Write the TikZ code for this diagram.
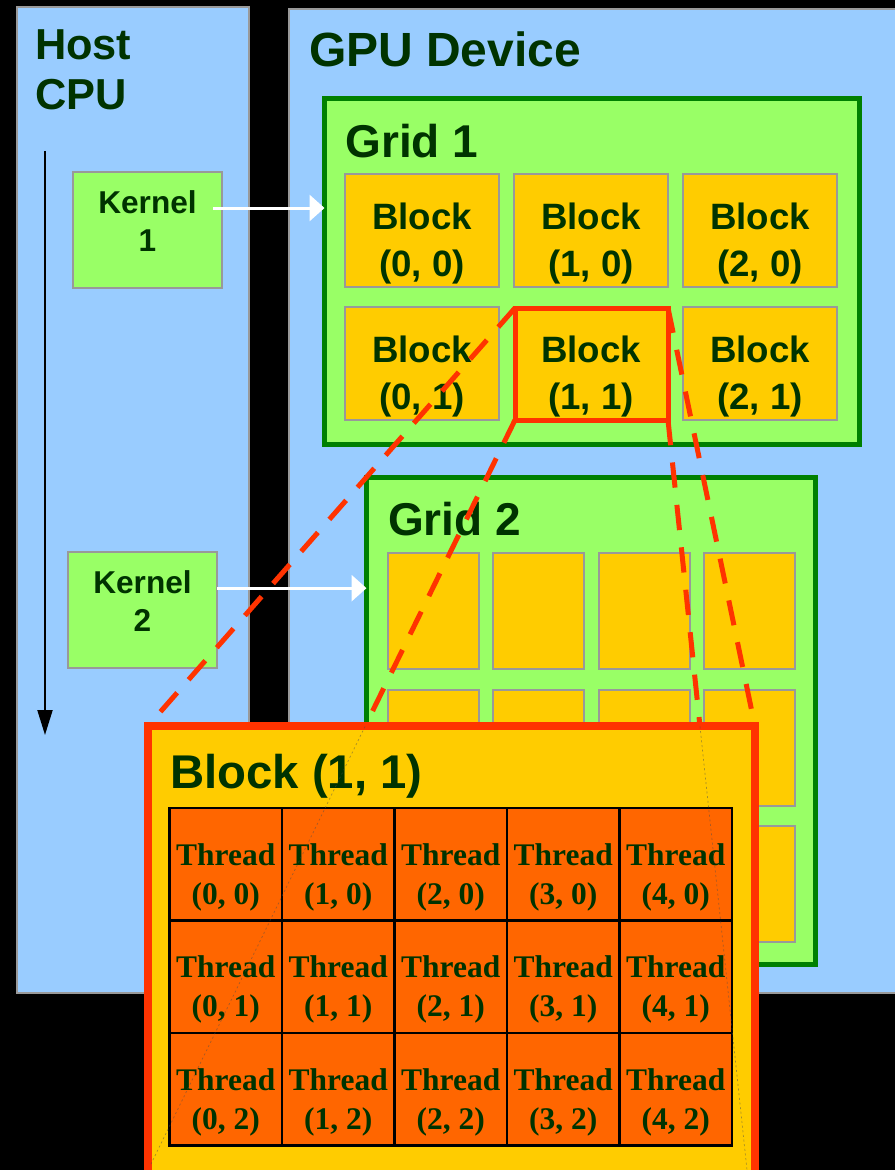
\documentclass[tikz,border=0pt]{standalone}
\usepackage{fontspec}
\setmainfont{Liberation Sans}
\newfontfamily\thrfont{Liberation Serif}
\usepackage{tikz}
\usetikzlibrary{arrows.meta, positioning, calc}
\definecolor{panelcol}{RGB}{153,204,255}
\definecolor{edgecol}{RGB}{153,153,153}
\definecolor{gridcol}{RGB}{153,255,102}
\definecolor{gridedge}{RGB}{0,128,0}
\definecolor{blockcol}{RGB}{255,204,0}
\definecolor{hilitecol}{RGB}{255,51,0}
\definecolor{threadcol}{RGB}{255,102,0}
\definecolor{txtcol}{RGB}{0,51,0}

\begin{document}
\begin{tikzpicture}[x=0.75pt, y=-0.75pt,
    every node/.style={inner sep=0pt, outer sep=0pt},
    panel/.style={fill=panelcol, draw=edgecol, line width=1.5pt},
    heading/.style={anchor=base west, text=txtcol,
      font=\fontsize{#1}{#1}\selectfont\bfseries},
    kernelbox/.style={rectangle, fill=gridcol, draw=edgecol, line width=1.5pt,
      minimum width=111.75pt, minimum height=87pt},
    kerneltxt/.style={align=center, text=txtcol,
      font=\fontsize{23.7}{28.5}\selectfont\bfseries},
    gridbox/.style={rectangle, fill=gridcol, draw=gridedge, line width=4pt},
    blockbox/.style={rectangle, fill=blockcol, draw=edgecol, line width=1.5pt},
    blocktxt/.style={align=center, text=txtcol,
      font=\fontsize{27.5}{35.8}\selectfont\bfseries},
    threadbox/.style={rectangle, fill=threadcol, draw=black, line width=1.9pt,
      minimum size=84.375pt},
    threadtxt/.style={align=center, text=txtcol,
      font=\thrfont\fontsize{23.6}{29.25}\selectfont\bfseries},
    launch/.style={white, line width=2.25pt,
      -{Triangle[length=11.25pt, width=19.5pt]}},
    zoomline/.style={hilitecol, line width=3.75pt,
      dash pattern=on 19pt off 13pt},
    ghostline/.style={black!70, opacity=0.5, line width=0.5pt,
      dash pattern=on 1.5pt off 2pt}
  ]

  % Backdrop
  \fill[black] (0,0) rectangle (895,1170);
  \useasboundingbox (0,0) rectangle (895,1170);

  % Host and device panels
  \draw[panel] (17,7) rectangle (249,993);
  \draw[panel] (289,9) rectangle (900,993);
  \node[heading=32.5] (hostlbl) at (35,60) {Host};
  \node[heading=32.5] (cpulbl) at (35,110) {CPU};
  \node[heading=36] (gpulbl) at (309,67) {GPU Device};

  % Time axis
  \coordinate (t0) at (45,151);
  \coordinate (t1) at (45,735);
  \draw[black, line width=1.5pt,
    -{Triangle[length=18.75pt, width=11.25pt]}] (t0) -- (t1);

  % Kernels
  \node[kernelbox] (k1) at (147.5,230) {};
  \node[kernelbox] (k2) at (142.5,609.5) {};
  \foreach \k in {1,2} {
    \node[kerneltxt] (kt\k) at ([yshift=6.4pt]k\k.center) {Kernel\\\k};
  }

  % Grid 1
  \node[gridbox, minimum width=401.25pt, minimum height=259.5pt]
    (g1) at (592,271.5) {};
  \node[heading=34.5] (g1lbl) at (345.5,157) {Grid 1};
  \foreach \c in {0,1,2} {
    \foreach \r in {0,1} {
      \node[blockbox, minimum width=115.5pt, minimum height=84.75pt]
        (b\c\r) at ({422+169*\c},{230.5+133*\r}) {};
      \node[blocktxt] (bt\c\r) at ([yshift=-9.8pt]b\c\r.center)
        {Block\\(\c, \r)};
    }
  }

  % Grid 2
  \node[gridbox, minimum width=336.75pt, minimum height=365.25pt]
    (g2) at (591,721) {};
  \node[heading=34.5] (g2lbl) at (388,535) {Grid 2};
  \foreach \c in {0,...,3} {
    \foreach \r in {0,1,2} {
      \node[blockbox, minimum width=68.25pt, minimum height=87pt]
        (c\c\r) at ({433.5+105.3*\c},{611+136.7*\r}) {};
    }
  }

  % Launch arrows
  \coordinate (k1o) at ([xshift=-6.75pt, yshift=16.5pt]k1.east);
  \coordinate (k2o) at ([yshift=16pt]k2.east);
  \draw[launch] (k1o) -- (k1o -| g1.west);
  \draw[launch] (k2o) -- (k2o -| g2.west);

  % Highlighted block
  \node[rectangle, draw=hilitecol, line width=3.75pt,
    minimum width=114.75pt, minimum height=84pt] (hl) at (591.5,364) {};

  % Close-up of Block (1, 1)
  \node[rectangle, fill=blockcol, draw=hilitecol, line width=6pt,
    minimum width=455.6pt, minimum height=343.9pt] (bb) at (451.25,955.75) {};
  \coordinate (bbL) at (365,726.5);
  \coordinate (bbR) at (700,726.5);

  % Zoom lines
  \draw[zoomline] (hl.north west) -- (bb.north west);
  \draw[zoomline] (hl.south west) -- (bbL);
  \draw[zoomline] (hl.north east) -- (bb.north east);
  \draw[zoomline] (hl.south east) -- (bbR);

  \node[heading=35.5] (bblbl) at (170,788) {Block (1, 1)};
  \foreach \i in {0,...,4} {
    \foreach \j in {0,1,2} {
      \node[threadbox] (t\i\j) at ({225.75+112.5*\i},{864.2+112.5*\j}) {};
      \node[threadtxt] (tt\i\j) at ([yshift=-9.75pt]t\i\j.center)
        {Thread\\(\i, \j)};
    }
  }

  % Faint continuation through the close-up
  \coordinate (gL) at (151,1164);
  \coordinate (gR) at (747,1170);
  \draw[ghostline] (bbL) -- (gL);
  \draw[ghostline] (bbR) -- (gR);

\end{tikzpicture}
\end{document}
